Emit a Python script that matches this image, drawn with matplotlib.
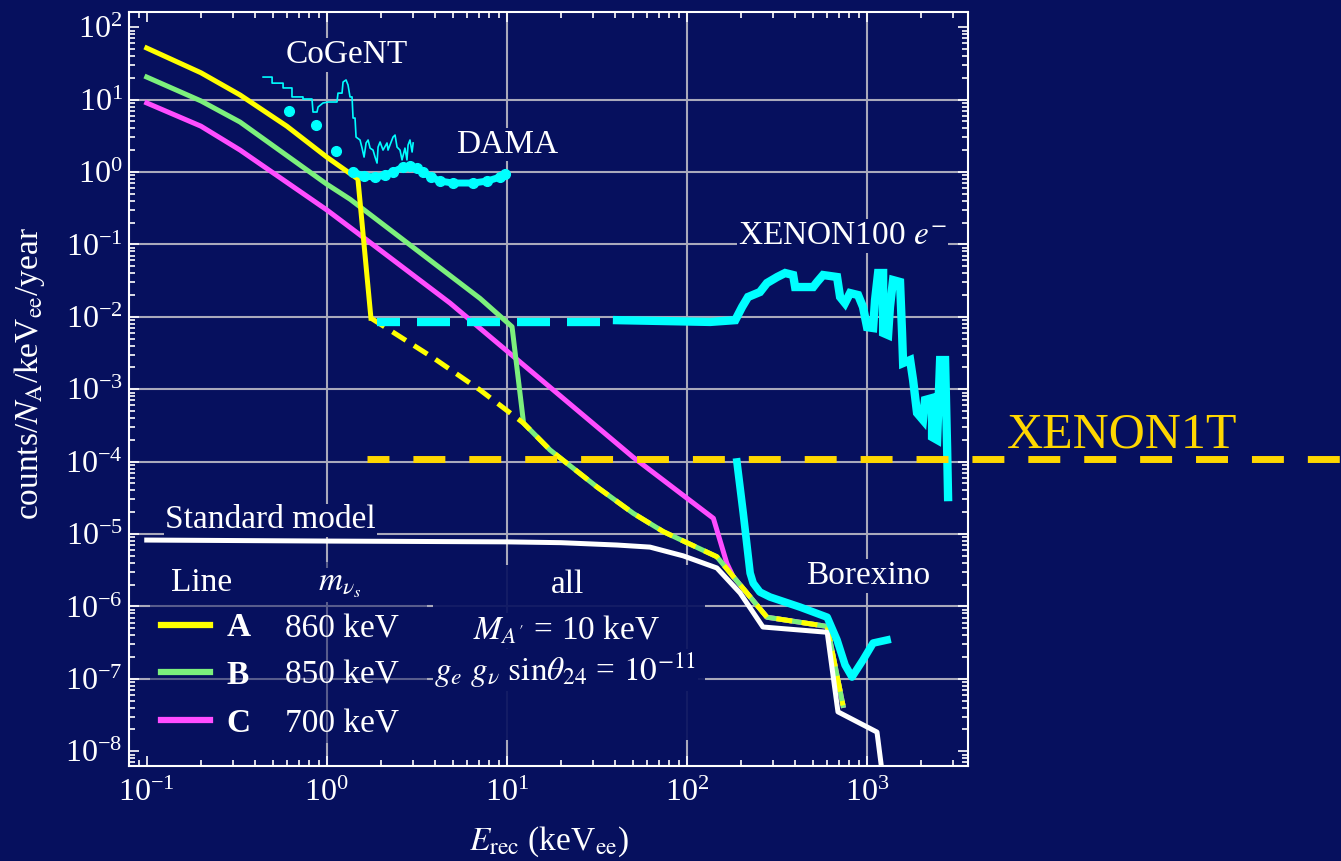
import matplotlib.pyplot as plt
from matplotlib.patches import Rectangle
from matplotlib.ticker import LogLocator, NullFormatter

plt.rcParams['font.family'] = ['Liberation Serif', 'DejaVu Serif']
plt.rcParams['mathtext.fontset'] = 'stix'

BG = '#06105e'

# ---- values: E_rec (keV_ee) vs counts/N_A/keV_ee/year ----
line_a_x = [0.1, 0.2, 0.33, 0.6, 1.0, 1.49, 1.76]
line_a_y = [51.6, 23.5, 11.6, 4.3, 1.61, 0.80, 0.0096]
line_a_dash_x = [1.76, 3.91, 7.11]
line_a_dash_y = [9.6e-3, 2.71e-3, 9.75e-4]

line_b_x = [0.1, 0.2, 0.33, 1.0, 1.35, 7.1, 10.7]
line_b_y = [20.5, 9.6, 4.9, 0.68, 0.42, 0.018, 7.3e-3]

line_c_x = [0.1, 0.2, 0.33, 1.0, 1.67, 4.84, 50.4, 140.6, 167]
line_c_y = [9.0, 4.3, 2.01, 0.30, 0.115, 0.0155, 1.15e-4, 1.65e-5, 3.94e-6]

# part shared by B and the dashed continuation of A
tail_ab_x = [12.4, 17.4, 31.6, 50.5, 74.1, 147]
tail_ab_y = [3.4e-4, 1.45e-4, 4.5e-5, 1.93e-5, 1.08e-5, 4.86e-6]
# high energy end shared by A, B, C
tail_x = [181, 279, 603, 738]
tail_y = [2.6e-6, 7.1e-7, 5.3e-7, 4.3e-8]

sm_x = [0.1, 1.0, 10, 20, 41, 62.5, 95.5, 147, 198, 265, 603, 692, 1140, 1233]
sm_y = [8.26e-6, 8.0e-6, 7.8e-6, 7.6e-6, 7.05e-6, 6.6e-6, 5.0e-6, 3.4e-6,
        1.53e-6, 5.2e-7, 4.4e-7, 3.5e-8, 1.84e-8, 4e-9]

cogent_x = [0.443, 0.497, 0.497, 0.572, 0.572, 0.641, 0.641, 0.738, 0.738, 0.828,
            0.839, 0.883, 0.895, 0.953, 1.017, 1.14, 1.155, 1.216, 1.232, 1.28,
            1.313, 1.347, 1.382, 1.40, 1.436, 1.455, 1.531, 1.571, 1.612, 1.654,
            1.697, 1.741, 1.808, 1.855, 1.903, 1.928, 1.978, 2.054, 2.162, 2.19,
            2.335, 2.396, 2.458, 2.553, 2.62, 2.72, 2.79, 2.83, 2.90, 2.98, 3.02]
cogent_y = [20.5, 20.5, 16.9, 16.9, 14.5, 14.5, 10.9, 10.9, 10.2, 10.2,
            6.74, 6.74, 7.9, 8.98, 9.27, 9.27, 12.3, 12.3, 17.5, 18.7,
            15.9, 10.9, 10.9, 5.57, 5.57, 3.04, 2.77, 2.14, 1.61, 2.52,
            2.77, 2.14, 2.01, 1.61, 1.33, 2.21, 2.60, 2.01, 2.52, 2.01,
            3.04, 3.24, 2.21, 2.01, 1.47, 2.14, 1.47, 2.36, 2.77, 1.89, 2.52]
cogent_pts_x = [0.618, 0.872, 1.126]
cogent_pts_y = [6.96, 4.46, 1.95]

dama_x = [1.40, 1.61, 1.855, 2.11, 2.335, 2.65, 2.90, 3.17, 3.42, 3.79,
          4.25, 5.02, 6.49, 7.81, 9.19, 9.78]
dama_y = [1.0, 0.88, 0.853, 0.909, 1.0, 1.17, 1.21, 1.14, 1.0, 0.853,
          0.751, 0.705, 0.705, 0.751, 0.853, 0.938]

x100_dash_x = [1.90, 41]
x100_dash_y = [8.5e-3, 8.5e-3]
x100_x = [41, 135, 186, 203, 219, 255, 279, 318, 352, 390, 400, 504, 530, 572,
          684, 711, 757, 808, 895, 953, 1004, 1085, 1112, 1156, 1233, 1233, 1314,
          1346, 1400, 1531, 1571, 1592, 1742, 1809, 1903, 2054, 2108, 2306, 2306,
          2460, 2556, 2724, 2795, 2830]
x100_y = [9.0e-3, 8.5e-3, 9.0e-3, 0.0137, 0.0188, 0.0220, 0.0293, 0.0355, 0.0403,
          0.0378, 0.0258, 0.0258, 0.0303, 0.0378, 0.0355, 0.0188, 0.0155, 0.0213,
          0.0200, 0.0137, 7.2e-3, 7.0e-3, 0.0171, 0.0403, 0.0403, 6.0e-3, 5.6e-3,
          0.0137, 0.0322, 0.0303, 6.0e-3, 2.3e-3, 2.53e-3, 1.34e-3, 4.7e-4, 3.76e-4,
          7.1e-4, 7.55e-4, 2.19e-4, 2.0e-4, 2.53e-3, 2.53e-3, 1.59e-4, 3.24e-5]

borexino_x = [190, 206, 225, 234, 255, 290, 426, 603, 684, 758, 828, 953, 1085, 1297]
borexino_y = [9.9e-5, 1.95e-5, 2.89e-6, 2.1e-6, 1.58e-6, 1.35e-6, 9.8e-7, 7.1e-7,
              3.44e-7, 1.55e-7, 1.06e-7, 1.82e-7, 3.12e-7, 3.44e-7]

xenon1t_level = 1.1e-4
xenon1t_x = [1.675, 4.3e5]   # runs on past the frame to the picture edge

masses = ['860 keV', '850 keV', '700 keV']
names = ['A', 'B', 'C']
colors = ['#ffff00', '#7cf07c', '#ff4dff']

fig = plt.figure(figsize=(13.41, 8.61), dpi=100, facecolor=BG)
ax = fig.add_axes([0.0962, 0.1103, 0.6257, 0.8757])
ax.set_facecolor(BG)
ax.set_xscale('log')
ax.set_yscale('log')
ax.set_xlim(0.0797, 3655)
ax.set_ylim(6.25e-9, 162)

for k in range(0, 4):
    ax.axvline(10.0 ** k, color='#a9a9bb', lw=1.5, zorder=0.5)
for k in range(-7, 2):
    ax.axhline(10.0 ** k, color='#a9a9bb', lw=1.5, zorder=0.5)

# boxes behind the two text blocks at the bottom
ax.add_patch(Rectangle((0.025, 0.030), 0.33, 0.24, transform=ax.transAxes,
                       facecolor=BG, edgecolor='none', alpha=0.5, zorder=0.8))
ax.add_patch(Rectangle((0.362, 0.034), 0.324, 0.233, transform=ax.transAxes,
                       facecolor=BG, edgecolor='none', alpha=0.92, zorder=0.8))

lw = 3.6
lc, = ax.plot(line_c_x + tail_x, line_c_y + tail_y, color=colors[2], lw=lw, zorder=2)
lb, = ax.plot(line_b_x + tail_ab_x + tail_x, line_b_y + tail_ab_y + tail_y,
              color=colors[1], lw=lw, zorder=2.1)
la, = ax.plot(line_a_x, line_a_y, color=colors[0], lw=lw, zorder=2.2)
ax.plot(line_a_dash_x + tail_ab_x + tail_x, line_a_dash_y + tail_ab_y + tail_y,
        color=colors[0], lw=lw, dashes=(3.2, 1.9), zorder=2.2)
ax.plot(sm_x, sm_y, color='white', lw=3.6, zorder=2.5)

ax.plot(cogent_x, cogent_y, color='#00ffff', lw=1.2, zorder=2.6)
ax.plot(cogent_pts_x, cogent_pts_y, 'o', color='#00ffff', ms=7, zorder=2.6)
ax.plot(dama_x, dama_y, color='#00ffff', lw=5, marker='o', ms=7, zorder=2.6)
ax.plot(x100_dash_x, x100_dash_y, color='#00ffff', lw=6,
        linestyle=(1.2, (3.96, 2.04)), zorder=2.6)
ax.plot(x100_x, x100_y, color='#00ffff', lw=6, solid_joinstyle='miter', zorder=2.6)
ax.plot(borexino_x, borexino_y, color='#00ffff', lw=5.5, zorder=2.6)

ax.plot(xenon1t_x, [xenon1t_level] * 2, color='#ffd700', lw=5,
        linestyle=(1.44, (4.6, 3.45)), clip_on=False, zorder=3)
fig.text(1122 / 1341, 1 - 435 / 861, 'XENON1T', color='#ffd700', fontsize=36,
         ha='center', va='center')

for sp in ax.spines.values():
    sp.set_color('white')
    sp.set_linewidth(1.5)
ax.xaxis.set_major_locator(LogLocator(base=10, numticks=100))
ax.yaxis.set_major_locator(LogLocator(base=10, numticks=100))
ax.xaxis.set_minor_locator(LogLocator(base=10, subs=range(2, 10), numticks=100))
ax.yaxis.set_minor_locator(LogLocator(base=10, subs=range(2, 10), numticks=100))
ax.xaxis.set_minor_formatter(NullFormatter())
ax.yaxis.set_minor_formatter(NullFormatter())
ax.tick_params(which='both', direction='in', top=True, right=True,
               colors='white', width=1.2, labelsize=23)
ax.tick_params(which='major', length=7)
ax.tick_params(axis='x', which='major', pad=9)
ax.tick_params(axis='y', which='major', pad=4.5)
ax.tick_params(which='minor', length=4)

ax.set_xlabel(r'$E_{\rm rec}$ (keV$_{\rm ee}$)', color='white', fontsize=24, va='center')
ax.xaxis.set_label_coords(0.5, -0.100)
ax.set_ylabel(r'counts/$N_{\rm A}$/keV$_{\rm ee}$/year', color='white', fontsize=24,
              va='center')
ax.yaxis.set_label_coords(-0.118, 0.521)

box = dict(facecolor=BG, edgecolor='none', pad=1)
labels = [
    (0.260, 0.943, 'CoGeNT'),
    (0.4505, 0.824, 'DAMA'),
    (0.850, 0.703, r'XENON100 $e^{-}$'),
    (0.169, 0.326, 'Standard model'),
    (0.881, 0.252, 'Borexino'),
    (0.523, 0.240, 'all'),
    (0.522, 0.180, r"$M_{A'}$ = 10 keV"),
    (0.520, 0.127, r'$g_e\ g_\nu\ \mathrm{sin}\theta_{24}$ = $10^{-11}$'),
    (0.087, 0.243, 'Line'),
    (0.2515, 0.240, r'$m_{\nu_s}$'),
]
for x, y, s in labels:
    ax.text(x, y, s, transform=ax.transAxes, color='white', fontsize=24,
            ha='center', va='center', bbox=box, zorder=1.5)

leg = ax.legend([la, lb, lc], names, loc='center left', bbox_to_anchor=(0.038, 0.120),
                frameon=False, borderpad=0, borderaxespad=0, handlelength=1.47,
                handletextpad=0.5, labelspacing=0.50,
                prop={'size': 24, 'weight': 'bold'})
for t in leg.get_texts():
    t.set_color('white')
for h in leg.legend_handles:
    h.set_linewidth(4.5)

for y, m in zip([0.181, 0.120, 0.056], masses):
    ax.text(0.186, y, m, transform=ax.transAxes, color='white', fontsize=24,
            ha='left', va='center', zorder=1.5)

fig.savefig('out.png', dpi=100, facecolor=BG)
